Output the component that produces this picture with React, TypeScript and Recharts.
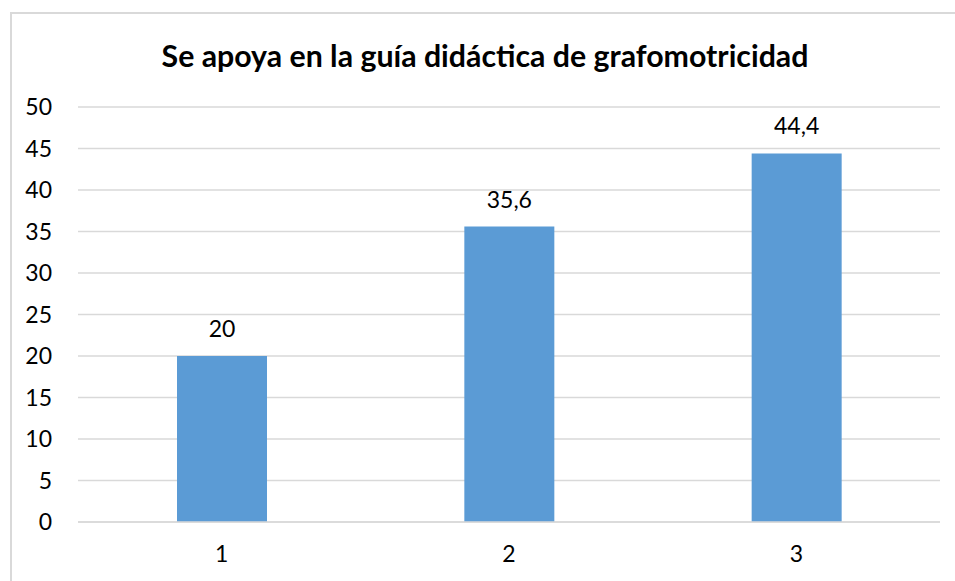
import { BarChart, Bar, XAxis, YAxis, CartesianGrid, LabelList } from 'recharts'

const categories = ['1', '2', '3']
const values = [20, 35.6, 44.4]
const yTicks = [0, 5, 10, 15, 20, 25, 30, 35, 40, 45, 50]

const data = categories.map((c, i) => ({ name: c, value: values[i] }))

const font = 'Lato, "Open Sans", sans-serif'

export default function App() {
  return (
    <div style={{ position: 'absolute', left: 0, top: 0, width: 955, height: 581, background: '#fff', overflow: 'hidden', fontFamily: font }}>
      <div
        style={{
          position: 'absolute',
          left: 10,
          top: 12,
          width: 960,
          height: 600,
          border: '2px solid #d9d9d9',
          boxSizing: 'border-box',
        }}
      />
      <div
        style={{
          position: 'absolute',
          left: 0,
          width: 970,
          top: 37,
          textAlign: 'center',
          fontSize: 30.3,
          fontWeight: 700,
          color: '#000',
          lineHeight: 1.2,
        }}
      >
        Se apoya en la guía didáctica de grafomotricidad
      </div>
      <div style={{ position: 'absolute', left: 0, top: 0 }}>
        <BarChart
          width={955}
          height={581}
          data={data}
          margin={{ top: 107, right: 15, bottom: 19, left: 18 }}
          barSize={90}
        >
          <CartesianGrid vertical={false} stroke="#d9d9d9" strokeWidth={1.5} />
          <XAxis
            dataKey="name"
            height={40}
            axisLine={{ stroke: '#d9d9d9', strokeWidth: 1.5 }}
            tickLine={false}
            tickSize={0}
            tickMargin={24}
            tick={{ fontSize: 23, fill: '#000', fontFamily: font }}
          />
          <YAxis
            width={60}
            domain={[0, 50]}
            ticks={yTicks}
            axisLine={false}
            tickLine={false}
            tickSize={0}
            tickMargin={26}
            tick={{ fontSize: 23, fill: '#000', fontFamily: font }}
          />
          <Bar dataKey="value" fill="#5B9BD5" isAnimationActive={false}>
            <LabelList
              dataKey="value"
              position="top"
              offset={19}
              formatter={(v: any) => String(v).replace('.', ',')}
              style={{ fontSize: 23, fill: '#000', fontFamily: font }}
            />
          </Bar>
        </BarChart>
      </div>
    </div>
  )
}
